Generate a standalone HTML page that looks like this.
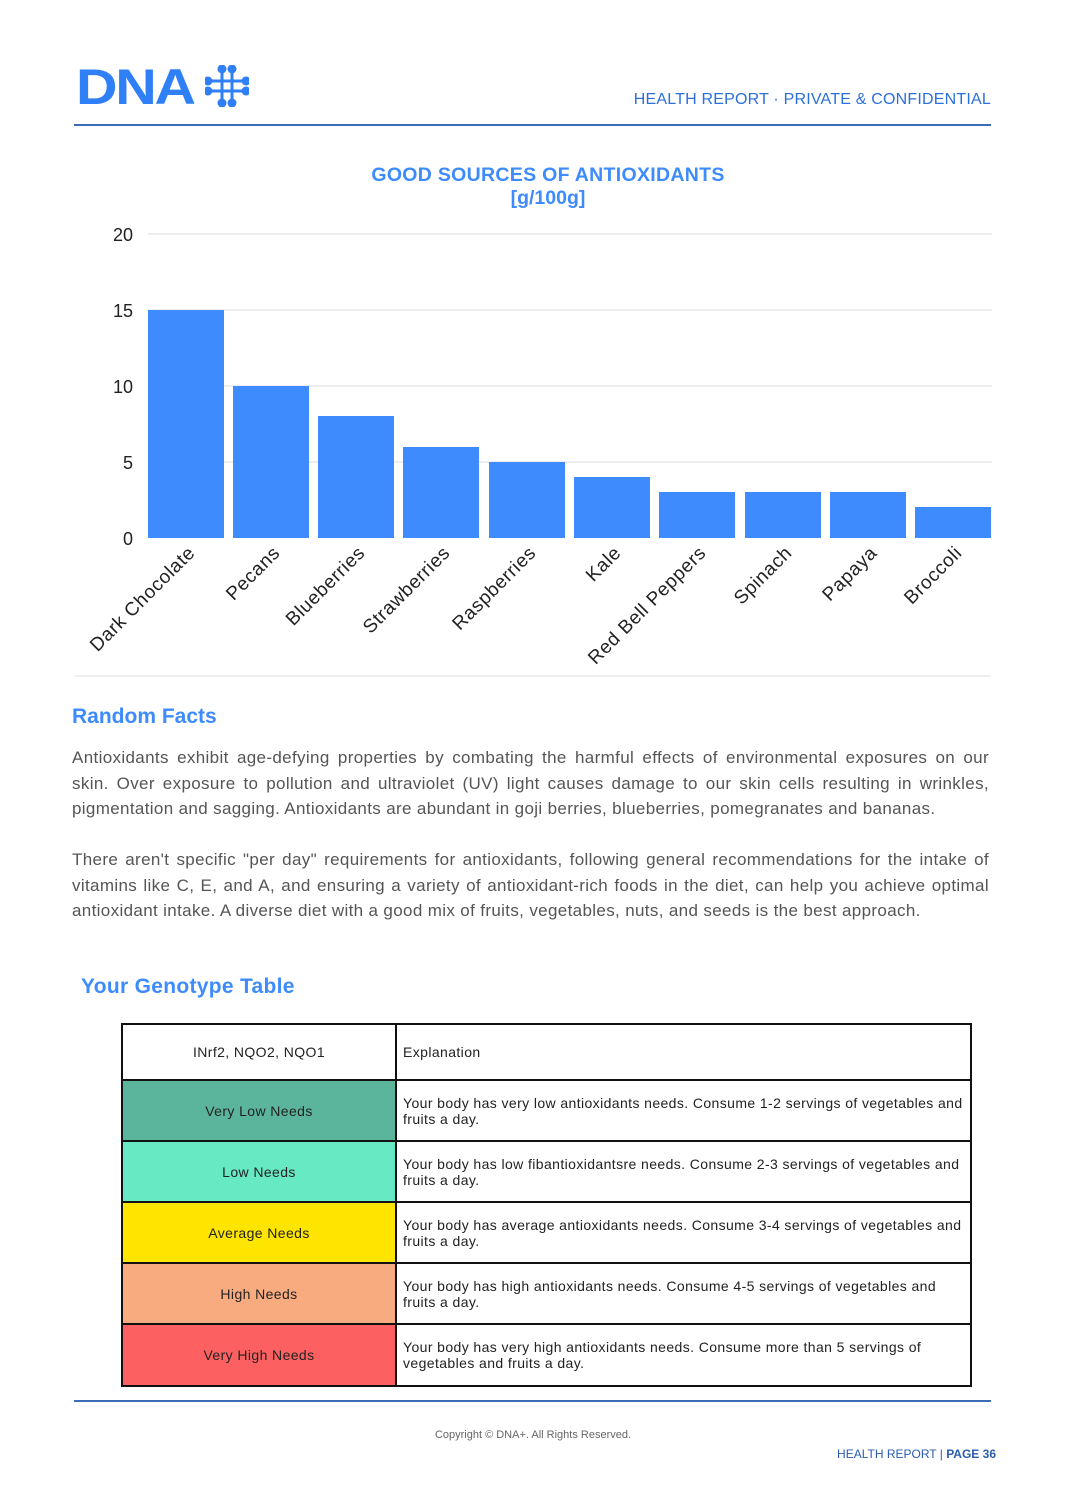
<!DOCTYPE html>
<html><head><meta charset="utf-8"><style>
body{margin:0;width:1066px;height:1508px;background:#fff;position:relative;font-family:"Liberation Sans",sans-serif;overflow:hidden}
.abs{position:absolute}
p.t{position:absolute;left:72px;width:917px;margin:0;font-size:17px;letter-spacing:0.35px;line-height:25.5px;color:#555;text-align:justify}
table{position:absolute;left:121px;top:1023px;border-collapse:collapse;font-size:14px;letter-spacing:0.4px;color:#222}
td{border:2px solid #111;padding:0 6px}
td.c{width:260px;text-align:center}
</style></head><body>
<div class="abs" style="left:76px;top:60px;font-size:50px;font-weight:bold;color:#2f7ff6;letter-spacing:-2px;line-height:54px;transform:scaleX(1.15);transform-origin:left">DNA</div>
<svg class="abs" style="left:205px;top:65px" width="44" height="42" viewBox="0 0 44 42">
<g stroke="#2f7ff6" stroke-width="3" fill="#2f7ff6">
<line x1="17" y1="4" x2="17" y2="38"/><line x1="27" y1="4" x2="27" y2="38"/>
<line x1="3" y1="16" x2="41" y2="16"/><line x1="3" y1="26" x2="41" y2="26"/>
<circle cx="17" cy="4" r="3"/><circle cx="27" cy="4" r="3"/><circle cx="17" cy="38" r="3"/><circle cx="27" cy="38" r="3"/>
<circle cx="3" cy="16" r="3"/><circle cx="41" cy="16" r="3"/><circle cx="3" cy="26" r="3"/><circle cx="41" cy="26" r="3"/>
</g></svg>
<div class="abs" style="right:75px;top:91px;font-size:16px;letter-spacing:0.2px;color:#2a6fdb">HEALTH REPORT · PRIVATE &amp; CONFIDENTIAL</div>
<div class="abs" style="left:74px;top:124px;width:917px;height:2px;background:#3a6db5"></div>

<svg class="abs" style="left:0;top:150px" width="1066" height="540">
<text x="548" y="31" text-anchor="middle" font-size="19.5" font-weight="bold" fill="#3d8bfd" letter-spacing="0.3">GOOD SOURCES OF ANTIOXIDANTS</text>
<text x="548" y="54" text-anchor="middle" font-size="19.5" font-weight="bold" fill="#3d8bfd">[g/100g]</text>
<g stroke="#ddd" stroke-width="1">
<line x1="148" y1="84" x2="992" y2="84"/><line x1="148" y1="160" x2="992" y2="160"/>
<line x1="148" y1="236" x2="992" y2="236"/><line x1="148" y1="312" x2="992" y2="312"/>
<line x1="75" y1="526" x2="990" y2="526"/></g>
<g font-size="18" fill="#222" text-anchor="end">
<text x="133" y="91">20</text><text x="133" y="167">15</text><text x="133" y="243">10</text><text x="133" y="319">5</text><text x="133" y="395">0</text></g>
<g fill="#3d8bfd">
<rect x="148" y="160" width="76" height="228"/>
<rect x="233" y="236" width="76" height="152"/>
<rect x="318" y="266" width="76" height="122"/>
<rect x="403" y="297" width="76" height="91"/>
<rect x="489" y="312" width="76" height="76"/>
<rect x="574" y="327" width="76" height="61"/>
<rect x="659" y="342" width="76" height="46"/>
<rect x="745" y="342" width="76" height="46"/>
<rect x="830" y="342" width="76" height="46"/>
<rect x="915" y="357" width="76" height="31"/>
</g>
<g font-size="19" fill="#222" text-anchor="end" letter-spacing="0.6">
<text transform="translate(196,404) rotate(-45)">Dark Chocolate</text>
<text transform="translate(281,404) rotate(-45)">Pecans</text>
<text transform="translate(366,404) rotate(-45)">Blueberries</text>
<text transform="translate(451,404) rotate(-45)">Strawberries</text>
<text transform="translate(537,404) rotate(-45)">Raspberries</text>
<text transform="translate(622,404) rotate(-45)">Kale</text>
<text transform="translate(707,404) rotate(-45)">Red Bell Peppers</text>
<text transform="translate(793,404) rotate(-45)">Spinach</text>
<text transform="translate(878,404) rotate(-45)">Papaya</text>
<text transform="translate(963,404) rotate(-45)">Broccoli</text>
</g></svg>

<div class="abs" style="left:72px;top:705px;font-size:21px;font-weight:bold;color:#3d8bfd">Random Facts</div>
<p class="t" style="top:745px">Antioxidants exhibit age-defying properties by combating the harmful effects of environmental exposures on our skin. Over exposure to pollution and ultraviolet (UV) light causes damage to our skin cells resulting in wrinkles, pigmentation and sagging. Antioxidants are abundant in goji berries, blueberries, pomegranates and bananas.</p>
<p class="t" style="top:847px">There aren't specific "per day" requirements for antioxidants, following general recommendations for the intake of vitamins like C, E, and A, and ensuring a variety of antioxidant-rich foods in the diet, can help you achieve optimal antioxidant intake. A diverse diet with a good mix of fruits, vegetables, nuts, and seeds is the best approach.</p>
<div class="abs" style="left:81px;top:975px;font-size:21px;font-weight:bold;color:#3d8bfd;letter-spacing:0.3px">Your Genotype Table</div>

<table>
<tr style="height:56px"><td class="c">INrf2, NQO2, NQO1</td><td style="width:561px">Explanation</td></tr>
<tr style="height:61px"><td class="c" style="background:#5bb59c">Very Low Needs</td><td>Your body has very low antioxidants needs. Consume 1-2 servings of vegetables and fruits a day.</td></tr>
<tr style="height:61px"><td class="c" style="background:#67e9c4">Low Needs</td><td>Your body has low fibantioxidantsre needs. Consume 2-3 servings of vegetables and fruits a day.</td></tr>
<tr style="height:61px"><td class="c" style="background:#fde500">Average Needs</td><td>Your body has average antioxidants needs. Consume 3-4 servings of vegetables and fruits a day.</td></tr>
<tr style="height:61px"><td class="c" style="background:#f9ab80">High Needs</td><td>Your body has high antioxidants needs. Consume 4-5 servings of vegetables and fruits a day.</td></tr>
<tr style="height:62px"><td class="c" style="background:#fc6060">Very High Needs</td><td>Your body has very high antioxidants needs. Consume more than 5 servings of vegetables and fruits a day.</td></tr>
</table>

<div class="abs" style="left:74px;top:1400px;width:917px;height:2px;background:#3a6db5"></div>
<div class="abs" style="left:0;width:1066px;top:1429px;text-align:center;font-size:11px;color:#666">Copyright © DNA+. All Rights Reserved.</div>
<div class="abs" style="right:70px;top:1447px;font-size:12px;color:#2a5db0">HEALTH REPORT | <b>PAGE 36</b></div>
</body></html>
